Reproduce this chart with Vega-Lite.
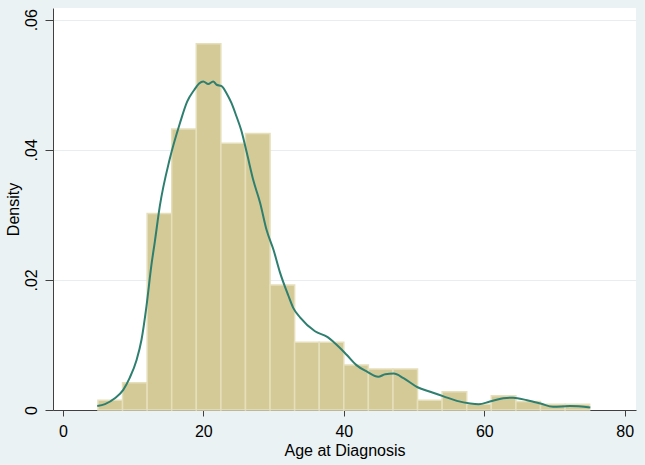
{
  "$schema": "https://vega.github.io/schema/vega-lite/v6.json",
  "width": 583,
  "height": 402,
  "autosize": {"type": "none"},
  "padding": {"left": 53, "top": 8, "right": 9, "bottom": 55},
  "background": "#EAF2F3",
  "config": {
    "view": {"fill": "white", "stroke": null},
    "font": "Liberation Sans"
  },
  "datasets": {
    "bins": [
      {"bin_start": 5, "bin_end": 8.5, "density": 0.0015},
      {"bin_start": 8.5, "bin_end": 12, "density": 0.0042},
      {"bin_start": 12, "bin_end": 15.5, "density": 0.0302},
      {"bin_start": 15.5, "bin_end": 19, "density": 0.0432},
      {"bin_start": 19, "bin_end": 22.5, "density": 0.0563},
      {"bin_start": 22.5, "bin_end": 26, "density": 0.041},
      {"bin_start": 26, "bin_end": 29.5, "density": 0.0425},
      {"bin_start": 29.5, "bin_end": 33, "density": 0.0192},
      {"bin_start": 33, "bin_end": 36.5, "density": 0.0104},
      {"bin_start": 36.5, "bin_end": 40, "density": 0.0104},
      {"bin_start": 40, "bin_end": 43.5, "density": 0.0069},
      {"bin_start": 43.5, "bin_end": 47, "density": 0.0063},
      {"bin_start": 47, "bin_end": 50.5, "density": 0.0063},
      {"bin_start": 50.5, "bin_end": 54, "density": 0.0015},
      {"bin_start": 54, "bin_end": 57.5, "density": 0.0028},
      {"bin_start": 57.5, "bin_end": 61, "density": 0.0009},
      {"bin_start": 61, "bin_end": 64.5, "density": 0.0022},
      {"bin_start": 64.5, "bin_end": 68, "density": 0.0013},
      {"bin_start": 68, "bin_end": 71.5, "density": 0.0009},
      {"bin_start": 71.5, "bin_end": 75, "density": 0.0009}
    ],
    "kde": [
      {"x": 4.9, "y": 0.0006},
      {"x": 6.0, "y": 0.0009},
      {"x": 7.4, "y": 0.0018},
      {"x": 8.6, "y": 0.0031},
      {"x": 9.5, "y": 0.0049},
      {"x": 10.5, "y": 0.0077},
      {"x": 11.2, "y": 0.0108},
      {"x": 11.9, "y": 0.0159},
      {"x": 12.6, "y": 0.0222},
      {"x": 13.1, "y": 0.0259},
      {"x": 13.8, "y": 0.0313},
      {"x": 15.2, "y": 0.0385},
      {"x": 16.7, "y": 0.0442},
      {"x": 17.7, "y": 0.0474},
      {"x": 18.7, "y": 0.0492},
      {"x": 19.4, "y": 0.0502},
      {"x": 20.0, "y": 0.0505},
      {"x": 20.7, "y": 0.0501},
      {"x": 21.4, "y": 0.0505},
      {"x": 21.9, "y": 0.05},
      {"x": 22.6, "y": 0.0498},
      {"x": 23.3, "y": 0.0487},
      {"x": 24.0, "y": 0.0472},
      {"x": 24.7, "y": 0.0452},
      {"x": 25.4, "y": 0.043},
      {"x": 26.2, "y": 0.0395},
      {"x": 27.1, "y": 0.0354},
      {"x": 28.1, "y": 0.0318},
      {"x": 29.0, "y": 0.0277},
      {"x": 30.0, "y": 0.0246},
      {"x": 30.9, "y": 0.0212},
      {"x": 32.1, "y": 0.0176},
      {"x": 32.8, "y": 0.0157},
      {"x": 33.8, "y": 0.0142},
      {"x": 35.9, "y": 0.0121},
      {"x": 37.7, "y": 0.0112},
      {"x": 38.5, "y": 0.0105},
      {"x": 39.5, "y": 0.0095},
      {"x": 40.4, "y": 0.0085},
      {"x": 41.8, "y": 0.0069},
      {"x": 43.3, "y": 0.0059},
      {"x": 44.9, "y": 0.0051},
      {"x": 45.9, "y": 0.0055},
      {"x": 47.1, "y": 0.0056},
      {"x": 48.5, "y": 0.0049},
      {"x": 50.5, "y": 0.0035},
      {"x": 52.3, "y": 0.0028},
      {"x": 54.2, "y": 0.0021},
      {"x": 56.1, "y": 0.0014},
      {"x": 58.0, "y": 0.001},
      {"x": 59.2, "y": 0.0009},
      {"x": 60.8, "y": 0.0013},
      {"x": 62.7, "y": 0.0018},
      {"x": 64.1, "y": 0.0019},
      {"x": 66.1, "y": 0.0015},
      {"x": 68.0, "y": 0.001},
      {"x": 69.8, "y": 0.0005},
      {"x": 72.2, "y": 0.0006},
      {"x": 75.1, "y": 0.0004}
    ]
  },
  "layer": [
    {
      "data": {"name": "bins"},
      "mark": {"type": "rect", "fill": "#D4CA97", "stroke": "#E6DFBC", "strokeWidth": 1.5},
      "encoding": {
        "x": {
          "field": "bin_start",
          "type": "quantitative",
          "scale": {"domain": [-1.4, 81.6], "nice": false, "zero": false},
          "axis": {
            "values": [0, 20, 40, 60, 80],
            "format": "d",
            "grid": false,
            "domainColor": "#404040",
            "tickColor": "#404040",
            "tickSize": 6,
            "labelFontSize": 16,
            "labelColor": "#000000",
            "labelPadding": 7,
            "title": "Age at Diagnosis",
            "titleFontSize": 16,
            "titleFontWeight": "normal",
            "titleColor": "#000000",
            "titlePadding": 3
          }
        },
        "x2": {"field": "bin_end"},
        "y": {
          "field": "density",
          "type": "quantitative",
          "scale": {"domain": [0, 0.0618], "nice": false},
          "axis": {
            "values": [0, 0.02, 0.04, 0.06],
            "labelExpr": "datum.value == 0 ? '0' : '.' + substring(format(datum.value, '.2f'), 2)",
            "grid": true,
            "gridColor": "#E6EEF0",
            "gridWidth": 1,
            "domainColor": "#404040",
            "tickColor": "#404040",
            "tickSize": 8,
            "labelFontSize": 16,
            "labelColor": "#000000",
            "labelAngle": 270,
            "labelAlign": "center",
            "labelBaseline": "bottom",
            "labelPadding": 6,
            "title": "Density",
            "titleFontSize": 16,
            "titleFontWeight": "normal",
            "titleColor": "#000000",
            "titlePadding": 2
          }
        },
        "y2": {"datum": 0}
      }
    },
    {
      "data": {"name": "kde"},
      "mark": {"type": "line", "color": "#2E7F6F", "strokeWidth": 2, "interpolate": "monotone"},
      "encoding": {
        "x": {"field": "x", "type": "quantitative"},
        "y": {"field": "y", "type": "quantitative"}
      }
    }
  ]
}
